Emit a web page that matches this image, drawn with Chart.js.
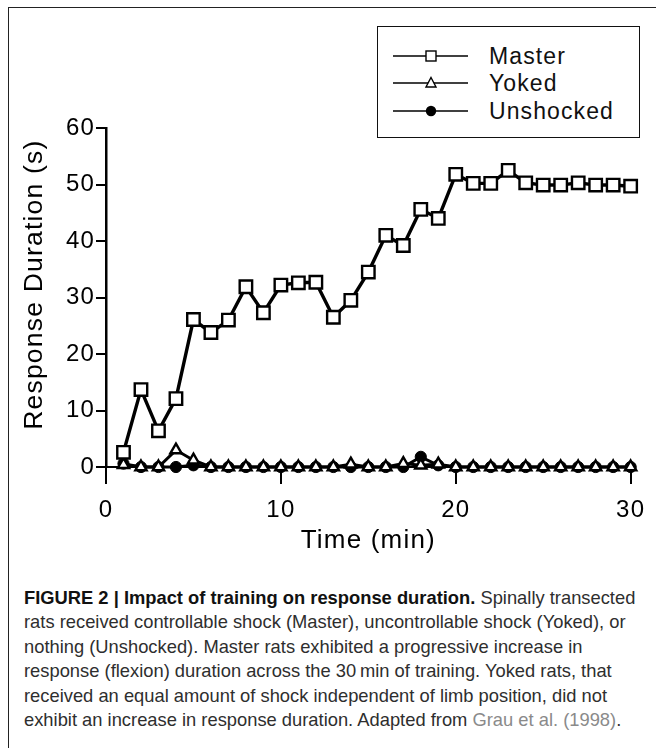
<!DOCTYPE html>
<html>
<head>
<meta charset="utf-8">
<script src="https://cdn.jsdelivr.net/npm/chart.js@4.4.1/dist/chart.umd.min.js"></script>
<style>
  html, body { margin: 0; padding: 0; background: #fff; }
  body { width: 656px; height: 748px; position: relative; overflow: hidden; font-family: "Liberation Sans", Arial, sans-serif; }
  #frame { position: absolute; left: 8px; top: 7px; right: 0; bottom: 0; border-top: 1px solid #222; border-left: 1px solid #222; }
  #chartBox { position: absolute; left: 0; top: 0; width: 656px; height: 560px; }
  #legend { position: absolute; left: 377px; top: 26px; width: 261px; height: 110px; border: 1.5px solid #111; background: #fff; }
  .row { position: absolute; left: 0; height: 28px; }
  .row svg { position: absolute; left: 12px; top: 4px; }
  .row span { position: absolute; left: 111px; font-size: 23px; letter-spacing: 1.1px; color: #111; white-space: nowrap; line-height: 28px; top: 0; }
  #caption { position: absolute; left: 24px; top: 586px; font-family: "Liberation Sans", Arial, sans-serif; font-size: 19px; line-height: 24.4px; color: #2e2e2e; white-space: nowrap; transform: scaleX(0.965); transform-origin: 0 0; }
  #caption b { color: #111; }
  #caption .ref { color: #8a8a8a; }
</style>
</head>
<body>
<div id="frame"></div>
<div id="chartBox"><canvas id="durationChart"></canvas></div>

<div id="legend">
  <div class="row" style="top:15px">
    <svg width="80" height="20"><line x1="3" y1="10" x2="78" y2="10" stroke="#000" stroke-width="1.3"/><rect x="36" y="5" width="10" height="10" fill="#fff" stroke="#000" stroke-width="1.4"/></svg>
    <span>Master</span>
  </div>
  <div class="row" style="top:42px">
    <svg width="80" height="20"><line x1="3" y1="10" x2="78" y2="10" stroke="#000" stroke-width="1.3"/><polygon points="41,4.5 46,14 36,14" fill="#fff" stroke="#000" stroke-width="1.4"/></svg>
    <span>Yoked</span>
  </div>
  <div class="row" style="top:70px">
    <svg width="80" height="20"><line x1="3" y1="10" x2="78" y2="10" stroke="#000" stroke-width="1.3"/><circle cx="41" cy="10" r="5.2" fill="#000"/></svg>
    <span>Unshocked</span>
  </div>
</div>

<div id="caption">
  <b>FIGURE 2 | Impact of training on response duration.</b> Spinally transected<br>
  rats received controllable shock (Master), uncontrollable shock (Yoked), or<br>
  nothing (Unshocked). Master rats exhibited a progressive increase in<br>
  response (flexion) duration across the 30&#8201;min of training. Yoked rats, that<br>
  received an equal amount of shock independent of limb position, did not<br>
  exhibit an increase in response duration. Adapted from <span class="ref">Grau et al. (1998)</span>.
</div>

<script>
// minutes of training
const minutes = [1, 2, 3, 4, 5, 6, 7, 8, 9, 10, 11, 12, 13, 14, 15,
  16, 17, 18, 19, 20, 21, 22, 23, 24, 25, 26, 27, 28, 29, 30];

// response duration (s)
const master = [2.6, 13.7, 6.4, 12.1, 26.1, 23.8, 26.0, 31.9, 27.3, 32.2, 32.6, 32.7, 26.5, 29.5, 34.5,
  41.0, 39.2, 45.6, 44.0, 51.8, 50.2, 50.2, 52.5, 50.3, 49.9, 49.9, 50.3, 49.9, 49.9, 49.7];
const yoked = [0.4, 0, 0, 3.0, 1.2, 0, 0, 0, 0, 0, 0, 0, 0, 0.5, 0,
  0, 0.6, 0.3, 0.5, 0, 0, 0, 0, 0, 0, 0, 0, 0, 0, 0];
const unshocked = [0.6, 0, 0, 0, 0.3, 0, 0, 0, 0, 0, 0, 0, 0, 0, 0,
  0, 0, 1.8, 0.3, 0, 0, 0, 0, 0, 0, 0, 0, 0, 0, 0];

const xTicks = [0, 10, 20, 30];
const yTicks = [0, 10, 20, 30, 40, 50, 60];

const FONT = '"Liberation Sans", Arial, sans-serif';

function toPoints(values) {
  return minutes.map((m, i) => ({ x: m, y: values[i] }));
}

// the original figure text is slightly spaced out
const spacingPlugin = {
  id: "spacing",
  beforeDraw(chart) {
    chart.ctx.letterSpacing = "1.2px";
  },
};

new Chart(document.getElementById("durationChart"), {
  type: "line",
  data: {
    datasets: [
      {
        label: "Master",
        data: toPoints(master),
        borderColor: "#000",
        borderWidth: 3.4,
        pointStyle: "rect",
        pointRadius: 8.8,
        pointBackgroundColor: "#fff",
        pointBorderColor: "#000",
        pointBorderWidth: 2.4,
        tension: 0,
        clip: false,
        order: 0,
      },
      {
        label: "Yoked",
        data: toPoints(yoked),
        borderColor: "#000",
        borderWidth: 3,
        pointStyle: "triangle",
        pointRadius: 6.5,
        pointBackgroundColor: "#fff",
        pointBorderColor: "#000",
        pointBorderWidth: 2.4,
        tension: 0,
        clip: false,
        order: 1,
      },
      {
        label: "Unshocked",
        data: toPoints(unshocked),
        borderColor: "#000",
        borderWidth: 3,
        pointStyle: "circle",
        pointRadius: 5.6,
        pointBackgroundColor: "#000",
        pointBorderColor: "#000",
        pointBorderWidth: 1,
        tension: 0,
        clip: false,
        order: 2,
      },
    ],
  },
  options: {
    responsive: true,
    maintainAspectRatio: false,
    animation: false,
    events: [],
    layout: { padding: { top: 128, right: 22, left: 0, bottom: 0 } },
    plugins: {
      legend: { display: false },
      tooltip: { enabled: false },
    },
    scales: {
      x: {
        type: "linear",
        min: 0,
        max: 30,
        afterBuildTicks: (scale) => {
          scale.ticks = xTicks.map((v) => ({ value: v }));
        },
        afterFit: (scale) => {
          scale.height = 93;
        },
        ticks: {
          font: { family: FONT, size: 24 },
          color: "#000",
          padding: 12,
          maxRotation: 0,
        },
        grid: {
          drawOnChartArea: false,
          drawTicks: true,
          tickLength: 17,
          color: "#000",
          lineWidth: 2,
        },
        border: { color: "#000", width: 2 },
        title: {
          display: true,
          text: "Time (min)",
          color: "#000",
          font: { family: FONT, size: 26 },
          padding: { top: 0, bottom: 4 },
        },
      },
      y: {
        type: "linear",
        min: 0,
        max: 60,
        afterBuildTicks: (scale) => {
          scale.ticks = yTicks.map((v) => ({ value: v }));
        },
        afterFit: (scale) => {
          scale.width = 106;
        },
        ticks: {
          font: { family: FONT, size: 24 },
          color: "#000",
          padding: 1,
        },
        grid: {
          drawOnChartArea: false,
          drawTicks: true,
          tickLength: 10,
          color: "#000",
          lineWidth: 2,
        },
        border: { color: "#000", width: 2.5 },
        title: {
          display: true,
          // leading spaces nudge the rotated label up to where the original sits
          text: "\u00a0\u00a0\u00a0Response Duration (s)",
          color: "#000",
          font: { family: FONT, size: 26.5 },
          padding: { top: 19, bottom: 0 },
        },
      },
    },
  },
  plugins: [spacingPlugin],
});
</script>
</body>
</html>
